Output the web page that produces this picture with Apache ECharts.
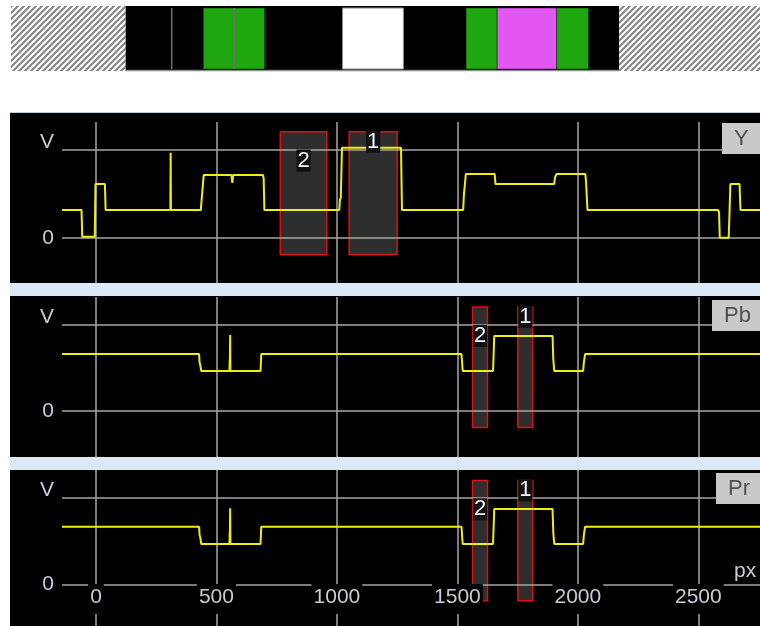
<!DOCTYPE html>
<html>
<head>
<meta charset="utf-8">
<script src="https://cdn.jsdelivr.net/npm/echarts@6/dist/echarts.min.js"></script>
<style>
html, body { margin: 0; padding: 0; background: #fff; }
#box { width: 760px; height: 626px; }
</style>
</head>
<body>
<div id="box"></div>
<script>
var FONT = "'Liberation Sans', Arial, sans-serif";

// tick values
var xTicks = [0, 500, 1000, 1500, 2000, 2500];
var yTickValues = [0, 1];
var yTickLabels = ['0', 'V'];
var panelNames = ['Y', 'Pb', 'Pr'];

// colour strip on top (px units)
var stripStart = [-353, 123, 314, 445, 574, 1023, 1536, 1665, 1912, 2171];
var stripEnd = [123, 2171, 314, 700, 574, 1276, 1665, 1912, 2044, 2756];
var stripKind = ['hatch', 'black', 'line', 'green', 'line', 'white', 'green', 'magenta', 'green', 'hatch'];

// waveforms [px, volts]
var yTrace = [[-141, 0.313], [-60, 0.313], [-57, 0.01], [-5, 0.01], [-2, 0.607], [37, 0.607], [40, 0.313],
	[309, 0.313], [309, 0.47], [310, 0.96], [311, 0.313], [435, 0.313], [437, 0.38], [441, 0.4], [447, 0.709],
	[562, 0.709], [566, 0.62], [569, 0.709], [693, 0.709], [696, 0.67], [699, 0.313], [1010, 0.313],
	[1012, 0.42], [1016, 0.45], [1021, 1.018], [1266, 1.018], [1270, 0.313], [1524, 0.313], [1527, 0.48],
	[1530, 0.5], [1535, 0.72], [1655, 0.72], [1658, 0.607], [1902, 0.607], [1905, 0.68], [1911, 0.72],
	[2031, 0.72], [2034, 0.63], [2040, 0.313], [2582, 0.313], [2586, 0.29], [2589, 0.0], [2626, 0.0],
	[2629, 0.24], [2633, 0.607], [2671, 0.607], [2675, 0.313], [2756, 0.313]];
var pbTrace = [[-141, 0.657], [428, 0.657], [430, 0.56], [433, 0.53], [437, 0.461], [554, 0.461], [555, 0.58],
	[556, 0.62], [557, 0.877], [558, 0.461], [683, 0.461], [686, 0.657], [1517, 0.657], [1522, 0.461],
	[1648, 0.461], [1653, 0.865], [1895, 0.865], [1898, 0.6], [1902, 0.461], [2022, 0.461], [2025, 0.56],
	[2030, 0.657], [2756, 0.657]];
var prTrace = [[-141, 0.665], [428, 0.665], [430, 0.57], [433, 0.54], [437, 0.465], [554, 0.465], [555, 0.58],
	[556, 0.62], [557, 0.877], [558, 0.465], [683, 0.465], [686, 0.665], [1517, 0.665], [1522, 0.465],
	[1648, 0.465], [1653, 0.869], [1895, 0.869], [1898, 0.6], [1902, 0.465], [2022, 0.465], [2025, 0.57],
	[2030, 0.665], [2756, 0.665]];

// measurement boxes
var boxTop = 1.2;
var boxBottom = -0.19;
var yBoxStart = [765, 1051];
var yBoxEnd = [958, 1250];
var cBoxStart = [1563, 1751];
var cBoxEnd = [1625, 1813];
var boxNames = ['2', '1'];

var stripColors = { green: '#1ea70e', magenta: '#e256f2', white: '#ffffff' };

function makeHatch() {
	var c = document.createElement('canvas');
	c.width = 6;
	c.height = 6;
	var g = c.getContext('2d');
	g.fillStyle = '#ffffff';
	g.fillRect(0, 0, 6, 6);
	g.strokeStyle = '#858585';
	g.lineWidth = 2;
	g.beginPath();
	g.moveTo(-1, 7); g.lineTo(7, -1);
	g.moveTo(-1, 1); g.lineTo(1, -1);
	g.moveTo(5, 7); g.lineTo(7, 5);
	g.stroke();
	return c;
}
var hatch = makeHatch();

function renderStrip(params, api) {
	var kind = stripKind[params.dataIndex];
	var a = api.coord([api.value(0), 1]);
	var b = api.coord([api.value(1), 0]);
	var x = a[0], y = a[1], w = b[0] - a[0], h = b[1] - a[1];
	if (kind == 'hatch') {
		return { type: 'rect', shape: { x: x, y: y, width: w, height: h }, style: { fill: { image: hatch, repeat: 'repeat' } } };
	}
	if (kind == 'black') {
		return {
			type: 'group', children: [
				{ type: 'rect', shape: { x: x, y: y, width: w, height: h }, style: { fill: '#000' } },
				{ type: 'line', shape: { x1: x, y1: y + h - 0.5, x2: x + w, y2: y + h - 0.5 }, style: { stroke: '#8c8c8c', lineWidth: 1.5 } }
			]
		};
	}
	if (kind == 'line') {
		return { type: 'line', shape: { x1: x, y1: y + 2, x2: x, y2: y + h - 2 }, style: { stroke: '#707070', lineWidth: 1.5 } };
	}
	return {
		type: 'rect', shape: { x: x, y: y + 2, width: w, height: h - 4 },
		style: { fill: stripColors[kind], stroke: kind == 'white' ? '#8a8a8a' : 'rgba(0,0,0,0.35)', lineWidth: 1 }
	};
}

function renderBox(params, api) {
	var a = api.coord([api.value(0), boxTop]);
	var b = api.coord([api.value(1), boxBottom]);
	return {
		type: 'rect', shape: { x: a[0], y: a[1], width: b[0] - a[0], height: b[1] - a[1] },
		style: { fill: '#2e2e2e', stroke: '#e01010', lineWidth: 1.5 }
	};
}

function renderBoxLabel(params, api) {
	var a = api.coord([(api.value(0) + api.value(1)) / 2, boxTop]);
	var name = boxNames[params.dataIndex];
	return {
		type: 'text', x: a[0], y: a[1] + (name == '1' ? 10 : 29),
		style: {
			text: name, fill: '#f4f6ff', font: '22px ' + FONT, align: 'center', verticalAlign: 'middle',
			backgroundColor: '#111', padding: [0, 1]
		}
	};
}

function pairs(s, e) {
	return s.map(function (v, i) { return [v, e[i]]; });
}

var gridLine = { show: true, lineStyle: { color: '#a6a6a6', width: 1.5 } };
var textColor = '#c5cdd6';

function makeX(idx) {
	return {
		type: 'value', gridIndex: idx, min: -141, max: 2756,
		axisLine: { show: false },
		axisTick: { show: false, customValues: xTicks },
		splitLine: gridLine,
		axisLabel: { show: false, customValues: xTicks }
	};
}

// tick labels of the bottom panel, on their own axis so they sit over the grid lines
var labelAxis = {
	type: 'value', gridIndex: 3, min: -141, max: 2756, position: 'bottom', offset: -42, z: 4,
	axisLine: { show: false, onZero: false },
	axisTick: { show: false, customValues: xTicks },
	splitLine: { show: false },
	axisLabel: {
		show: true, customValues: xTicks, margin: 0,
		formatter: function (v) { return String(v); },
		color: textColor, fontSize: 21, fontFamily: FONT, lineHeight: 22,
		backgroundColor: '#000', padding: [2, 2, 6, 2]
	},
	name: 'px', nameLocation: 'end', nameGap: -26,
	nameTextStyle: { color: textColor, fontSize: 21, fontFamily: FONT, verticalAlign: 'bottom', align: 'left', padding: [0, 0, 2, 0] }
};

function makeY(idx, min, max) {
	return {
		type: 'value', gridIndex: idx, min: min, max: max,
		axisLine: { show: false },
		axisTick: { show: false, customValues: yTickValues },
		splitLine: gridLine,
		axisLabel: {
			customValues: yTickValues, margin: 8,
			formatter: function (v) {
				var k = yTickValues.indexOf(v);
				return (v == 1 ? '{t|' : '{b|') + yTickLabels[k] + '}';
			},
			rich: {
				t: { color: textColor, fontSize: 21, fontFamily: FONT, padding: [0, 0, 14, 0] },
				b: { color: textColor, fontSize: 21, fontFamily: FONT }
			}
		}
	};
}

function makeTitle(i, left, top) {
	return {
		text: panelNames[i], left: left, top: top, backgroundColor: '#c9c9c9', padding: [4, 40, 3, 12],
		textStyle: { color: '#505050', fontSize: 22, fontWeight: 'normal', fontFamily: FONT, lineHeight: 24 }, z: 8
	};
}

var myChart = echarts.init(document.getElementById('box'));
var option = {
	animation: false,
	backgroundColor: '#fff',
	title: [makeTitle(0, 722, 123), makeTitle(1, 712, 300), makeTitle(2, 716, 473)],
	graphic: [
		{ type: 'rect', z: -10, shape: { x: 10, y: 112, width: 750, height: 514 }, style: { fill: '#000' } },
		{ type: 'line', z: -9, shape: { x1: 10, y1: 112.5, x2: 760, y2: 112.5 }, style: { stroke: '#c2cfdd', lineWidth: 1 } },
		{ type: 'rect', z: -9, shape: { x: 10, y: 283, width: 750, height: 13 }, style: { fill: '#dbe8f8' } },
		{ type: 'rect', z: -9, shape: { x: 10, y: 457, width: 750, height: 13 }, style: { fill: '#dbe8f8' } }
	],
	grid: [
		{ left: 11, right: 0, top: 6, height: 65, outerBoundsMode: 'none', containLabel: false },
		{ left: 62, right: 0, top: 122, height: 161, outerBoundsMode: 'none', containLabel: false },
		{ left: 62, right: 0, top: 297, height: 160, outerBoundsMode: 'none', containLabel: false },
		{ left: 62, right: 0, top: 470, height: 156, outerBoundsMode: 'none', containLabel: false }
	],
	xAxis: [
		{ type: 'value', gridIndex: 0, min: -353, max: 2756, show: false },
		makeX(1), makeX(2), makeX(3), labelAxis
	],
	yAxis: [
		{ type: 'value', gridIndex: 0, min: 0, max: 1, show: false },
		makeY(1, -0.512, 1.309), makeY(2, -0.531, 1.315), makeY(3, -0.482, 1.32)
	],
	series: [
		{ type: 'custom', xAxisIndex: 0, yAxisIndex: 0, renderItem: renderStrip, data: pairs(stripStart, stripEnd), silent: true }
	]
};

var traces = [yTrace, pbTrace, prTrace];
var boxStarts = [yBoxStart, cBoxStart, cBoxStart];
var boxEnds = [yBoxEnd, cBoxEnd, cBoxEnd];
for (var p = 0; p < 3; p++) {
	option.series.push({
		type: 'custom', name: panelNames[p] + ' boxes', xAxisIndex: p + 1, yAxisIndex: p + 1, z: -1,
		renderItem: renderBox, data: pairs(boxStarts[p], boxEnds[p]), silent: true
	});
	option.series.push({
		type: 'line', name: panelNames[p], xAxisIndex: p + 1, yAxisIndex: p + 1, z: 2,
		data: traces[p], showSymbol: false, symbol: 'none',
		lineStyle: { color: '#eeee10', width: 2 }, silent: true
	});
	option.series.push({
		type: 'custom', name: panelNames[p] + ' marks', xAxisIndex: p + 1, yAxisIndex: p + 1, z: 5,
		renderItem: renderBoxLabel, data: pairs(boxStarts[p], boxEnds[p]), silent: true
	});
}

myChart.clear();
myChart.setOption(option);
</script>
</body>
</html>
